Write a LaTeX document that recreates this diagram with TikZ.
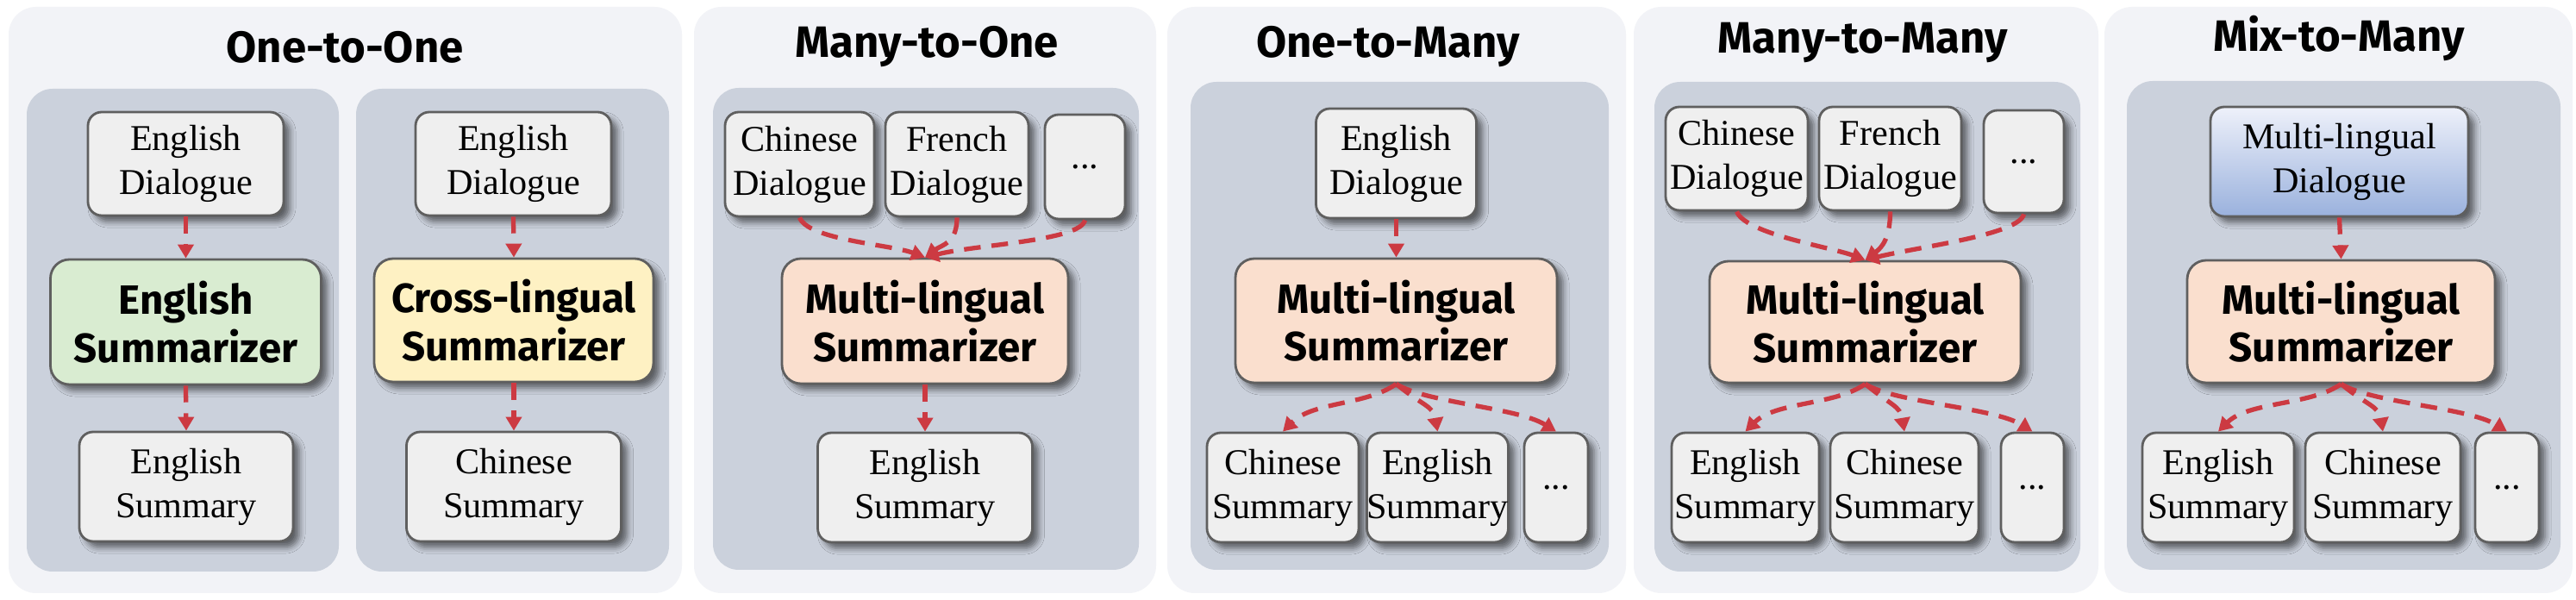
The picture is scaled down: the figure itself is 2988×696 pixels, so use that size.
\documentclass[tikz,border=0pt]{standalone}
\usepackage{fontspec}
\setmainfont{Liberation Serif}
\newfontfamily\comicfont{Fira Sans}
\usetikzlibrary{arrows.meta,shadows.blur}
\definecolor{outerbg}{HTML}{F2F3F7}
\definecolor{innerbg}{HTML}{CBD1DC}
\definecolor{boxfill}{HTML}{EFEFEF}
\definecolor{boxline}{HTML}{5F5F5F}
\definecolor{greenfill}{HTML}{D9ECD1}
\definecolor{yellowfill}{HTML}{FEF1C3}
\definecolor{peachfill}{HTML}{FADFCE}
\definecolor{dlgtop}{HTML}{EEF1FA}
\definecolor{dlgbot}{HTML}{9AB1DD}
\definecolor{arrowred}{HTML}{CC3A42}
\begin{document}
\begin{tikzpicture}[x=0.1mm,y=-0.1mm,
  outerpanel/.style={fill=outerbg,rounded corners=3.2mm},
  innerpanel/.style={fill=innerbg,rounded corners=3mm},
  titletext/.style={font=\comicfont\bfseries\fontsize{14.5}{16}\selectfont,anchor=base,inner sep=0pt},
  wh/.style 2 args={minimum width=#1*0.1mm,minimum height=#2*0.1mm},
  databox/.style={draw=boxline,line width=0.8pt,fill=boxfill,rounded corners=1.6mm,
    align=center,inner sep=0pt,font=\fontsize{12}{14.5}\selectfont,
    blur shadow={shadow xshift=2pt,shadow yshift=-2pt,shadow blur radius=2pt,shadow opacity=55}},
  modelbox/.style={databox,rounded corners=2.2mm,font=\comicfont\bfseries\fontsize{13.5}{15.8}\selectfont},
  flow/.style={draw=arrowred,line width=1.5pt,dash pattern=on 5.5pt off 3.6pt,
    -{Triangle[length=1.6mm,width=1.8mm]}}]
\useasboundingbox (0,0) rectangle (2988,696);
\fill[white] (0,0) rectangle (2988,696);
% outer panels
\fill[outerpanel] (10,8) rectangle (791,688);
\fill[outerpanel] (805,8) rectangle (1341,688);
\fill[outerpanel] (1354,8) rectangle (1886,688);
\fill[outerpanel] (1895,8) rectangle (2434,688);
\fill[outerpanel] (2441,8) rectangle (2984,688);
% inner panels
\fill[innerpanel] (31,103) rectangle (393,663);
\fill[innerpanel] (413,103) rectangle (776,663);
\fill[innerpanel] (827,102) rectangle (1321,661);
\fill[innerpanel] (1381,95) rectangle (1866,661);
\fill[innerpanel] (1919,95) rectangle (2413,663);
\fill[innerpanel] (2467,94) rectangle (2970,661);
% titles
\node[titletext] (t1) at (400,73) {One-to-One};
\node[titletext] (t2) at (1075,67) {Many-to-One};
\node[titletext] (t3) at (1610,67) {One-to-Many};
\node[titletext] (t4) at (2161,62) {Many-to-Many};
\node[titletext] (t5) at (2713,60) {Mix-to-Many};
% panel 1
\node[databox,wh={227}{120}] (a1) at (215.5,190) {English\\Dialogue};
\node[modelbox,wh={314}{145},fill=greenfill] (a2) at (215.5,373.5) {English\\Summarizer};
\node[databox,wh={248}{127}] (a3) at (216,564.5) {English\\Summary};
\node[databox,wh={227}{120}] (b1) at (595.5,190) {English\\Dialogue};
\node[modelbox,wh={324}{143},fill=yellowfill] (b2) at (596,371.5) {Cross-lingual\\Summarizer};
\node[databox,wh={249}{127}] (b3) at (596,564.5) {Chinese\\Summary};
\draw[flow] (a1.south) -- (a2.north);
\draw[flow] (a2.south) -- (a3.north);
\draw[flow] (b1.south) -- (b2.north);
\draw[flow] (b2.south) -- (b3.north);
% panel 2
\node[databox,wh={173}{121}] (c1) at (927.5,190.5) {Chinese\\Dialogue};
\node[databox,wh={166}{121}] (c2) at (1110,190.5) {French\\Dialogue};
\node[databox,wh={93}{121}] (c3) at (1258.5,193.5) {...};
\node[modelbox,wh={332}{145},fill=peachfill] (c4) at (1073,372.5) {Multi-lingual\\Summarizer};
\node[databox,wh={249}{127}] (c5) at (1073,565.5) {English\\Summary};
\draw[flow] (c1.south) .. controls +(10,26) and +(-40,-15) .. (c4.north);
\draw[flow] (c2.south) .. controls +(0,30) and +(20,-15) .. (c4.north);
\draw[flow] (c3.south) .. controls +(-5,24) and +(60,-15) .. (c4.north);
\draw[flow] (c4.south) -- (c5.north);
% panel 3
\node[databox,wh={186}{127}] (d1) at (1619.5,189.5) {English\\Dialogue};
\node[modelbox,wh={373}{144},fill=peachfill] (d2) at (1619.5,372) {Multi-lingual\\Summarizer};
\node[databox,wh={176}{127}] (d3) at (1488,565.5) {Chinese\\Summary};
\node[databox,wh={159}{127}] (d4) at (1667.5,565.5) {English\\Summary};
\node[databox,wh={74}{127}] (d5) at (1805,565.5) {...};
\draw[flow] (d1.south) -- (d2.north);
\draw[flow] (d2.south) .. controls +(-35,25) and +(35,-35) .. (d3.north);
\draw[flow] (d2.south) .. controls +(30,25) and +(-5,-30) .. (d4.north);
\draw[flow] (d2.south) .. controls +(35,22) and +(-45,-28) .. (d5.north);
% panel 4
\node[databox,wh={165}{120}] (e1) at (2014.5,184) {Chinese\\Dialogue};
\node[databox,wh={165}{120}] (e2) at (2192.5,184) {French\\Dialogue};
\node[databox,wh={93}{119}] (e3) at (2347.5,187.5) {...};
\node[modelbox,wh={361}{141},fill=peachfill] (e4) at (2163.5,373.5) {Multi-lingual\\Summarizer};
\node[databox,wh={171}{127}] (e5) at (2024.5,565.5) {English\\Summary};
\node[databox,wh={172}{127}] (e6) at (2209,565.5) {Chinese\\Summary};
\node[databox,wh={73}{127}] (e7) at (2357.5,565.5) {...};
\draw[flow] (e1.south) .. controls +(10,26) and +(-40,-15) .. (e4.north);
\draw[flow] (e2.south) .. controls +(0,30) and +(20,-15) .. (e4.north);
\draw[flow] (e3.south) .. controls +(-5,24) and +(60,-15) .. (e4.north);
\draw[flow] (e4.south) .. controls +(-35,25) and +(35,-35) .. (e5.north);
\draw[flow] (e4.south) .. controls +(30,25) and +(-5,-30) .. (e6.north);
\draw[flow] (e4.south) .. controls +(35,22) and +(-45,-28) .. (e7.north);
% panel 5
\node[databox,wh={299}{127},top color=dlgtop,bottom color=dlgbot] (f1) at (2713.5,187.5) {Multi-lingual\\Dialogue};
\node[modelbox,wh={357}{142},fill=peachfill] (f2) at (2715.5,373) {Multi-lingual\\Summarizer};
\node[databox,wh={176}{127}] (f3) at (2573,565.5) {English\\Summary};
\node[databox,wh={180}{127}] (f4) at (2764,565.5) {Chinese\\Summary};
\node[databox,wh={74}{127}] (f5) at (2908,565.5) {...};
\draw[flow] (f1.south) -- (f2.north);
\draw[flow] (f2.south) .. controls +(-35,25) and +(35,-35) .. (f3.north);
\draw[flow] (f2.south) .. controls +(30,25) and +(-5,-30) .. (f4.north);
\draw[flow] (f2.south) .. controls +(35,22) and +(-45,-28) .. (f5.north);
\end{tikzpicture}
\end{document}
